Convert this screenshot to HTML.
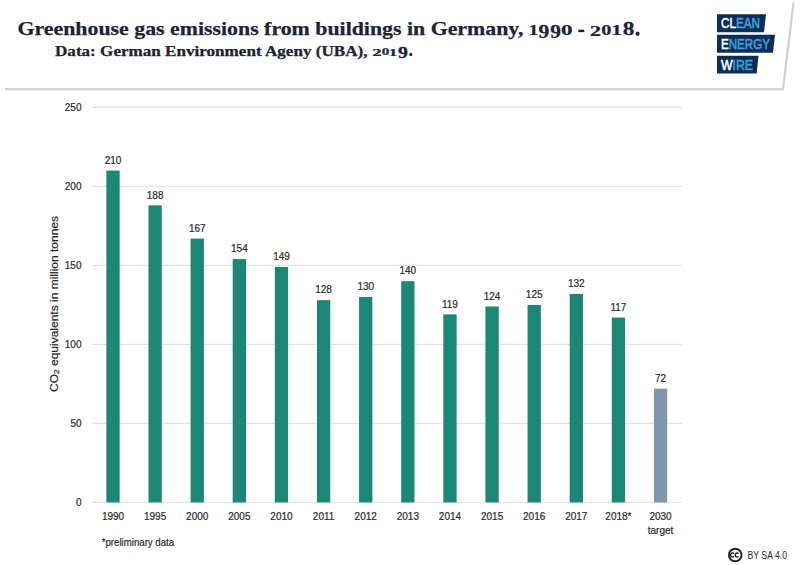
<!DOCTYPE html>
<html><head><meta charset="utf-8">
<style>
html,body{margin:0;padding:0;background:#fff;}
body{width:800px;height:565px;overflow:hidden;position:relative;}
svg{position:absolute;left:0;top:0;}
.ax{font-family:"Liberation Sans",sans-serif;font-size:10px;fill:#2a2a2a;stroke:#2a2a2a;stroke-width:0.2px;}
.ttl{font-family:"Liberation Serif",serif;font-weight:bold;fill:#1c2335;stroke:#1c2335;stroke-width:0.25px;}
</style></head>
<body>
<svg width="800" height="565" viewBox="0 0 800 565">
  <!-- header shadow -->
  <defs><filter id="bl" x="-5%" y="-50%" width="110%" height="200%"><feGaussianBlur stdDeviation="0.7"/></filter></defs>
  <polyline points="5,89.2 783,89.2 793.6,2.5" fill="none" stroke="#d2d2d2" stroke-width="2.3" filter="url(#bl)"/>
  <!-- title -->
  <text class="ttl" x="17.5" y="35.3" font-size="19" textLength="506" lengthAdjust="spacingAndGlyphs">Greenhouse gas emissions from buildings in Germany,</text>
  <g class="ttl" font-size="19" stroke="#1c2335" stroke-width="0.35">
  <text x="0" y="0" transform="translate(528.48,35.3) scale(1,0.788)" textLength="9.909" lengthAdjust="spacingAndGlyphs">1</text>
  <text x="0" y="0" transform="translate(538.48,38.35) scale(1,1.032)" textLength="10.768" lengthAdjust="spacingAndGlyphs">9</text>
  <text x="0" y="0" transform="translate(550.17,38.35) scale(1,1.032)" textLength="10.739" lengthAdjust="spacingAndGlyphs">9</text>
  <text x="0" y="0" transform="translate(561.12,35.38) scale(1,0.8)" textLength="11.52" lengthAdjust="spacingAndGlyphs">0</text>
  <text x="0" y="0" transform="translate(589.75,35.5) scale(1,0.792)" textLength="11.341" lengthAdjust="spacingAndGlyphs">2</text>
  <text x="0" y="0" transform="translate(601.25,35.38) scale(1,0.8)" textLength="10.124" lengthAdjust="spacingAndGlyphs">0</text>
  <text x="0" y="0" transform="translate(611.15,35.3) scale(1,0.788)" textLength="10.723" lengthAdjust="spacingAndGlyphs">1</text>
  <text x="0" y="0" transform="translate(622.65,35.25) scale(1,1.047)" textLength="11.689" lengthAdjust="spacingAndGlyphs">8</text>
  <rect x="578.5" y="29.9" width="5.6" height="2.1" fill="#1c2335"/>
  <circle cx="637.6" cy="33.7" r="1.95" fill="#1c2335"/>
  </g>
  <text class="ttl" x="55" y="55.6" font-size="14" textLength="312.5" lengthAdjust="spacingAndGlyphs">Data: German Environment Ageny (UBA),</text>
  <g class="ttl" font-size="14" stroke="#1c2335" stroke-width="0.3">
  <text x="0" y="0" transform="translate(372.35,55.5) scale(1,0.811)" textLength="9.376" lengthAdjust="spacingAndGlyphs">2</text>
  <text x="0" y="0" transform="translate(381.78,55.38) scale(1,0.803)" textLength="7.528" lengthAdjust="spacingAndGlyphs">0</text>
  <text x="0" y="0" transform="translate(388.82,55.5) scale(1,0.811)" textLength="8.64" lengthAdjust="spacingAndGlyphs">1</text>
  <text x="0" y="0" transform="translate(398.1,58.38) scale(1,1.12)" textLength="9.915" lengthAdjust="spacingAndGlyphs">9</text>
  <circle cx="410.75" cy="54.4" r="1.5" fill="#1c2335"/>
  </g>
  <!-- logo -->
  <g>
    <polygon points="717,14.3 766,14.3 764,32.3 717,32.3" fill="#0d2c58"/>
    <polygon points="717,34.8 775,34.8 773,52.7 717,52.7" fill="#0d2c58"/>
    <polygon points="717,55.8 758.5,55.8 756.6,73.4 717,73.4" fill="#0d2c58"/>
    <g font-family="Liberation Sans" font-weight="normal" font-size="14" stroke-width="0.55">
      <text x="721" y="28.3" textLength="39" lengthAdjust="spacingAndGlyphs"><tspan fill="#fff" stroke="#fff">CL</tspan><tspan fill="#38a2d8" stroke="#38a2d8">EAN</tspan></text>
      <text x="721" y="48.8" textLength="49" lengthAdjust="spacingAndGlyphs"><tspan fill="#fff" stroke="#fff">E</tspan><tspan fill="#38a2d8" stroke="#38a2d8">NERGY</tspan></text>
      <text x="721" y="69.8" textLength="32" lengthAdjust="spacingAndGlyphs"><tspan fill="#fff" stroke="#fff">W</tspan><tspan fill="#38a2d8" stroke="#38a2d8">IRE</tspan></text>
    </g>
  </g>
  <!-- gridlines -->
  <g stroke="#e3e3e3" stroke-width="1.3">
    <line x1="92" y1="107.4" x2="682" y2="107.4"/>
    <line x1="92" y1="186.4" x2="682" y2="186.4"/>
    <line x1="92" y1="265.4" x2="682" y2="265.4"/>
    <line x1="92" y1="344.4" x2="682" y2="344.4"/>
    <line x1="92" y1="423.4" x2="682" y2="423.4"/>
    <line x1="92" y1="502.4" x2="682" y2="502.4"/>
  </g>
  <!-- y labels -->
  <g class="ax" text-anchor="end">
    <text x="81.5" y="110.6">250</text>
    <text x="81.5" y="189.6">200</text>
    <text x="81.5" y="268.6">150</text>
    <text x="81.5" y="347.6">100</text>
    <text x="81.5" y="426.6">50</text>
    <text x="81.5" y="506">0</text>
  </g>
  <text class="ax" font-size="11" transform="translate(58.3,392) rotate(-90)" textLength="176" lengthAdjust="spacingAndGlyphs">CO<tspan font-size="7" dy="1">2</tspan><tspan dy="-1"> equivalents in million tonnes</tspan></text>
  <!-- bars -->
  <g id="bars">
  <rect x="106.35" y="170.60" width="13.3" height="331.80" fill="#1a8875"/>
  <text class="ax" x="113.00" y="163.80" text-anchor="middle">210</text>
  <text class="ax" x="113.00" y="520" text-anchor="middle">1990</text>
  <rect x="148.47" y="205.36" width="13.3" height="297.04" fill="#1a8875"/>
  <text class="ax" x="155.12" y="198.56" text-anchor="middle">188</text>
  <text class="ax" x="155.12" y="520" text-anchor="middle">1995</text>
  <rect x="190.59" y="238.54" width="13.3" height="263.86" fill="#1a8875"/>
  <text class="ax" x="197.24" y="231.74" text-anchor="middle">167</text>
  <text class="ax" x="197.24" y="520" text-anchor="middle">2000</text>
  <rect x="232.71" y="259.08" width="13.3" height="243.32" fill="#1a8875"/>
  <text class="ax" x="239.36" y="252.28" text-anchor="middle">154</text>
  <text class="ax" x="239.36" y="520" text-anchor="middle">2005</text>
  <rect x="274.83" y="266.98" width="13.3" height="235.42" fill="#1a8875"/>
  <text class="ax" x="281.48" y="260.18" text-anchor="middle">149</text>
  <text class="ax" x="281.48" y="520" text-anchor="middle">2010</text>
  <rect x="316.95" y="300.16" width="13.3" height="202.24" fill="#1a8875"/>
  <text class="ax" x="323.60" y="293.36" text-anchor="middle">128</text>
  <text class="ax" x="323.60" y="520" text-anchor="middle">2011</text>
  <rect x="359.07" y="297.00" width="13.3" height="205.40" fill="#1a8875"/>
  <text class="ax" x="365.72" y="290.20" text-anchor="middle">130</text>
  <text class="ax" x="365.72" y="520" text-anchor="middle">2012</text>
  <rect x="401.19" y="281.20" width="13.3" height="221.20" fill="#1a8875"/>
  <text class="ax" x="407.84" y="274.40" text-anchor="middle">140</text>
  <text class="ax" x="407.84" y="520" text-anchor="middle">2013</text>
  <rect x="443.31" y="314.38" width="13.3" height="188.02" fill="#1a8875"/>
  <text class="ax" x="449.96" y="307.58" text-anchor="middle">119</text>
  <text class="ax" x="449.96" y="520" text-anchor="middle">2014</text>
  <rect x="485.43" y="306.48" width="13.3" height="195.92" fill="#1a8875"/>
  <text class="ax" x="492.08" y="299.68" text-anchor="middle">124</text>
  <text class="ax" x="492.08" y="520" text-anchor="middle">2015</text>
  <rect x="527.55" y="304.90" width="13.3" height="197.50" fill="#1a8875"/>
  <text class="ax" x="534.20" y="298.10" text-anchor="middle">125</text>
  <text class="ax" x="534.20" y="520" text-anchor="middle">2016</text>
  <rect x="569.67" y="293.84" width="13.3" height="208.56" fill="#1a8875"/>
  <text class="ax" x="576.32" y="287.04" text-anchor="middle">132</text>
  <text class="ax" x="576.32" y="520" text-anchor="middle">2017</text>
  <rect x="611.79" y="317.54" width="13.3" height="184.86" fill="#1a8875"/>
  <text class="ax" x="618.44" y="310.74" text-anchor="middle">117</text>
  <text class="ax" x="618.44" y="520" text-anchor="middle">2018*</text>
  <rect x="653.91" y="388.64" width="13.3" height="113.76" fill="#7f97ad"/>
  <text class="ax" x="660.56" y="381.84" text-anchor="middle">72</text>
  <text class="ax" x="660.56" y="520" text-anchor="middle">2030</text>
  <text class="ax" x="660.56" y="533.5" text-anchor="middle">target</text>
  <text class="ax" x="101.7" y="545.8" textLength="72.5" lengthAdjust="spacingAndGlyphs">*preliminary data</text>
  <circle cx="735.2" cy="555" r="6.3" fill="none" stroke="#222" stroke-width="1.9"/>
  <path d="M734.0 553.6 A2 2 0 1 0 734.0 556.4 M738.6 553.6 A2 2 0 1 0 738.6 556.4" fill="none" stroke="#222" stroke-width="1.4"/>
  <text class="ax" x="747.5" y="558.5" font-size="9.3" style="stroke-width:0" textLength="39.5" lengthAdjust="spacingAndGlyphs">BY SA 4.0</text>
  </g>
</svg>
<script>
</script>
</body></html>
